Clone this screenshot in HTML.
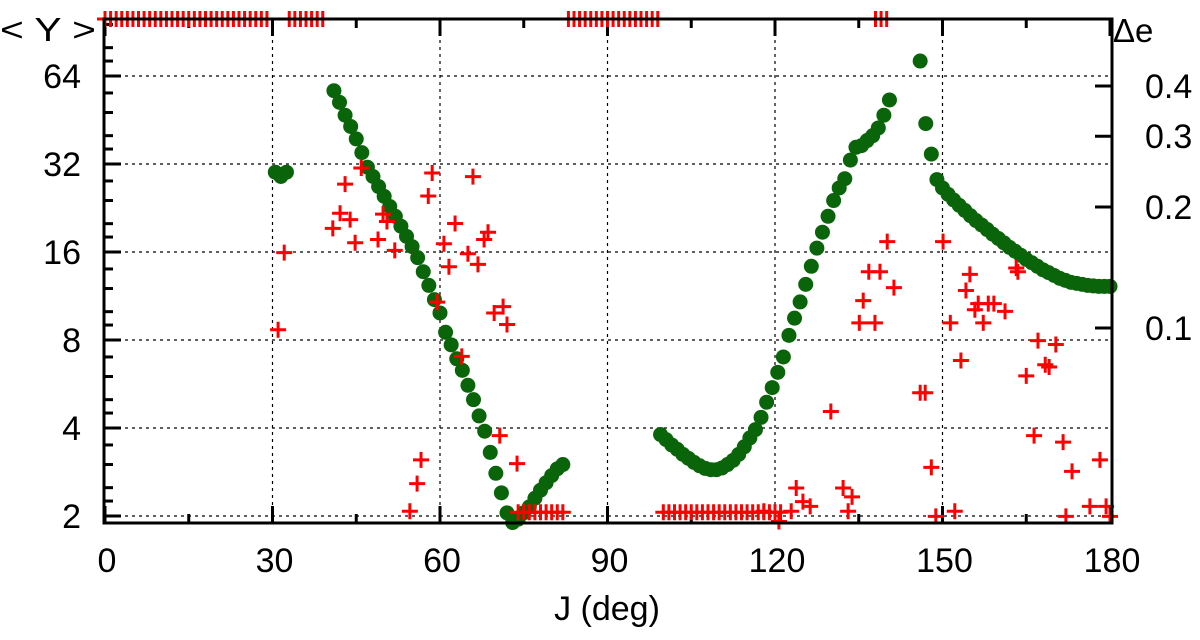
<!DOCTYPE html>
<html><head><meta charset="utf-8"><style>
html,body{margin:0;padding:0;background:#fff;}
svg{display:block;font-family:"Liberation Sans",sans-serif;}
</style></head><body>
<svg id="chart" width="1200" height="640" viewBox="0 0 1200 640" xmlns="http://www.w3.org/2000/svg">
<g id="grid"></g>
<g id="axes"></g>
<g id="green"></g>
<g id="red"></g>
<rect x="104" y="19" width="1008" height="504" fill="none" stroke="#000" stroke-width="3"/>
<text x="0" y="41" font-size="33" textLength="96" lengthAdjust="spacingAndGlyphs">&lt; Y &gt;</text>
<text x="1113" y="42" font-size="33">Δe</text>
<text x="607" y="620" font-size="34" text-anchor="middle">J (deg)</text>
</svg>
<script>
const xTicks=[0,30,60,90,120,150,180];
const yTicks=[2,4,8,16,32,64];
const rTicks=[0.1,0.2,0.3,0.4];
const rTickLabels=["0.1","0.2","0.3","0.4"];
const greenJ=[30.5,31.5,32.5,41,42,43,44,45,46,47,48,49,50,51,52,53,54,55,56,57,58,59,60,61,62,63,64,65,66,67,68,69,70,71,72,73,74,75,76,77,78,79,80,81,82,
99.5,100.5,101.5,102.5,103.5,104.5,105.5,106.5,107.5,108.5,109.5,110.5,111.5,112.5,113.5,114.5,115.5,116.5,117.5,118.5,119.5,120.5,121.5,122.5,123.5,124.5,125.5,126.5,127.5,128.5,129.5,130.5,131.5,132.5,133.5,134.5,135.5,136.5,137.5,138.5,139.5,140.5,
146,147,148,149,150,151,152,153,154,155,156,157,158,159,160,161,162,163,164,165,166,167,168,169,170,171,172,173,174,175,176,177,178,179,180];
const greenY=[30,29,30,57,52,47,43,39,35,31.2,29,26.8,24.8,22.9,21.2,19.6,18.1,16.7,15.3,13.7,12.3,11,9.9,8.5,7.7,6.9,6.3,5.6,5,4.4,3.9,3.3,2.8,2.4,2.05,1.9,1.95,2.05,2.15,2.3,2.45,2.6,2.75,2.9,3.0,
3.8,3.65,3.5,3.38,3.25,3.15,3.05,2.97,2.91,2.88,2.88,2.92,3.0,3.1,3.25,3.45,3.7,3.95,4.35,4.9,5.5,6.2,7.0,8.3,9.5,10.8,12.4,14.3,16.5,18.7,21.2,24,26.5,28.5,33,36.5,37,38.5,40,42.5,47,53,
72,44,34.6,28.3,26.5,25.2,24.1,23.1,22.2,21.3,20.5,19.8,19.1,18.4,17.8,17.2,16.6,16.1,15.6,15.1,14.7,14.3,13.9,13.6,13.3,13.0,12.8,12.6,12.5,12.4,12.3,12.25,12.2,12.2,12.2];
const redJ=[0,1,2,3,4,5,6,7,8,9,10,11,12,13,14,15,16,17,18,19,20,21,22,23,24,25,26,27,28,29,33,34,35,36,37,38,39,83,84,85,86,87,88,89,90,91,92,93,94,95,96,97,98,99,138,139,140,
74,75,76,77,78,79,80,81,82,100,101,102,103,104,105,106,107,108,109,110,111,112,113,114,115,116,117,118,119,120,121,
31,32.1,40.8,42.1,43,43.9,44.8,45.9,48.9,49.8,50.5,51.9,57.9,58.6,59.5,60.7,61.6,62.7,63.9,65,65.9,66.8,67.9,68.6,69.7,71.3,72,70.7,73.8,55.9,56.6,54.6,
130,132.2,133.1,133.8,135.1,135.8,136.8,137.9,138.8,140.1,141.3,146,146.9,148,148.8,150.1,151.4,152.2,153.3,154.2,154.9,155.8,156.4,157.3,158.2,159.2,161.2,163.2,163.5,165,166.4,167.1,168.4,169.1,170.3,171.6,172.1,173.2,176.4,178.2,179.3,180,118,120.7,122.9,123.8,125,126.3];
const redE=[0.587,0.587,0.587,0.587,0.587,0.587,0.587,0.587,0.587,0.587,0.587,0.587,0.587,0.587,0.587,0.587,0.587,0.587,0.587,0.587,0.587,0.587,0.587,0.587,0.587,0.587,0.587,0.587,0.587,0.587,0.587,0.587,0.587,0.587,0.587,0.587,0.587,0.587,0.587,0.587,0.587,0.587,0.587,0.587,0.587,0.587,0.587,0.587,0.587,0.587,0.587,0.587,0.587,0.587,0.587,0.587,0.587,
0.0348,0.0348,0.0348,0.0348,0.0348,0.0348,0.0348,0.0348,0.0348,0.0348,0.0348,0.0348,0.0348,0.0348,0.0348,0.0348,0.0348,0.0348,0.0348,0.0348,0.0348,0.0348,0.0348,0.0348,0.0348,0.0348,0.0348,0.0348,0.0348,0.0348,0.0348,
0.099,0.154,0.177,0.193,0.228,0.186,0.163,0.250,0.166,0.192,0.184,0.156,0.213,0.243,0.116,0.162,0.142,0.182,0.085,0.153,0.238,0.144,0.166,0.173,0.109,0.113,0.102,0.054,0.046,0.041,0.047,0.035,
0.062,0.040,0.035,0.038,0.103,0.117,0.138,0.103,0.138,0.164,0.126,0.069,0.069,0.045,0.034,0.164,0.103,0.035,0.083,0.124,0.136,0.111,0.115,0.103,0.115,0.115,0.110,0.141,0.138,0.076,0.054,0.093,0.081,0.080,0.091,0.052,0.034,0.044,0.036,0.047,0.036,0.034,0.035,0.033,0.035,0.040,0.037,0.036];

const NS="http://www.w3.org/2000/svg";
const L=104,R=1112,T=19,B=523;
function xs(j){return 105+j*(1005/180);}
function ys(v){return 516-88*Math.log2(v/2);}
function yr(e){return 328-402*Math.log10(e/0.1);}
function mk(tag,attrs,parent){const e=document.createElementNS(NS,tag);for(const k in attrs)e.setAttribute(k,attrs[k]);parent.appendChild(e);return e;}
const grid=document.getElementById('grid'),axes=document.getElementById('axes');
const gG=document.getElementById('green'),gR=document.getElementById('red');
const dash={stroke:"#000","stroke-width":1.2,"stroke-dasharray":"3,4"};
xTicks.forEach(t=>{const x=xs(t);
 if(t>0&&t<180){const g=mk('line',Object.assign({x1:x,x2:x,y1:T,y2:B},dash),grid);
 
 }
 const a=mk('line',{x1:x,x2:x,y1:B,y2:B-17,stroke:"#000","stroke-width":3},axes);
 
 
 const b=mk('line',{x1:x,x2:x,y1:T,y2:T+17,stroke:"#000","stroke-width":3},axes);
 
 
 const tx=mk('text',{x:x+2,y:572,"font-size":34,"text-anchor":"middle"},axes);tx.textContent=t;
 
 
 if(t<180){const xm=xs(t+15);
  const m1=mk('line',{x1:xm,x2:xm,y1:B,y2:B-9,stroke:"#000","stroke-width":3},axes);
  
  
  const m2=mk('line',{x1:xm,x2:xm,y1:T,y2:T+9,stroke:"#000","stroke-width":3},axes);
  
  }
});
yTicks.forEach(t=>{const y=ys(t);
 const g=mk('line',Object.assign({x1:L,x2:R,y1:y,y2:y},dash),grid);
 
 
 const a=mk('line',{x1:L,x2:L+17,y1:y,y2:y,stroke:"#000","stroke-width":3},axes);
 
 
 const tx=mk('text',{x:81,y:y+12,"font-size":34,"text-anchor":"end"},axes);tx.textContent=t;
 
 
 [9,10,12,14].forEach(f=>{const ym=ys(t*f/8);if(ym<T+2)return;
  const m=mk('line',{x1:L,x2:L+9,y1:ym,y2:ym,stroke:"#000","stroke-width":3},axes);
  
  });
});
[1.125,1.25,1.5,1.75].forEach(f=>{const ym=ys(f);if(ym<B-2){const m=mk('line',{x1:L,x2:L+9,y1:ym,y2:ym,stroke:"#000","stroke-width":3},axes);
 
 }});
rTicks.forEach((t,i)=>{const y=yr(t);
 const a=mk('line',{x1:R,x2:R-17,y1:y,y2:y,stroke:"#000","stroke-width":3},axes);
 
 
 const tx=mk('text',{x:1145,y:y+12,"font-size":34},axes);tx.textContent=rTickLabels[i];
 
 
});
greenJ.forEach((j,i)=>{const c=mk('circle',{cx:xs(j),cy:ys(greenY[i]),r:7.5,fill:"#0a640a"},gG);
 
 });
redJ.forEach((j,i)=>{const x=xs(j),y=Math.max(T,Math.min(B,yr(redE[i])));
 const p=mk('path',{d:`M${x-8},${y}H${x+8}M${x},${y-8}V${y+8}`,stroke:"#f00","stroke-width":3,fill:"none"},gR);
 
 });
</script>
</body></html>
